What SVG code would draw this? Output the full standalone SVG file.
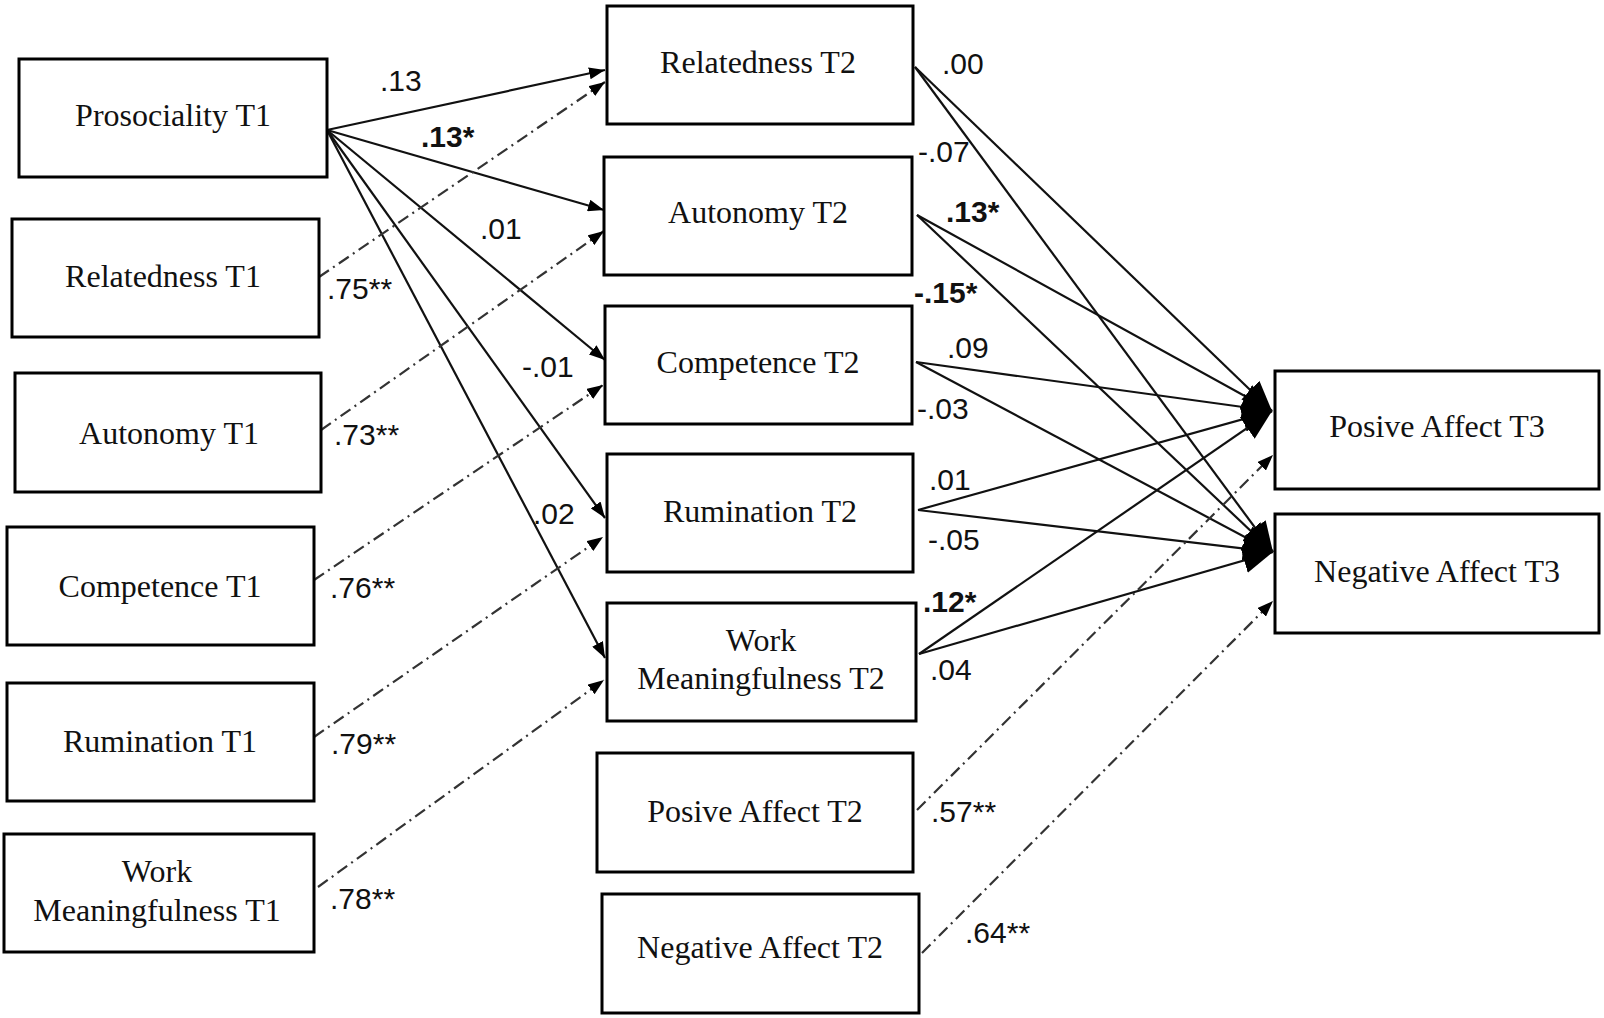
<svg xmlns="http://www.w3.org/2000/svg" width="1604" height="1018" viewBox="0 0 1604 1018">
<style>
.box{fill:#fff;stroke:#000;stroke-width:3}
.nt{font-family:"Liberation Serif","Times New Roman",serif;font-size:32px;fill:#111;text-anchor:middle}
.lb{font-family:"Liberation Sans",Arial,sans-serif;font-size:30px;fill:#111}
.b{font-weight:bold}
.s{fill:none;stroke:#111;stroke-width:2.2}
.d{fill:none;stroke:#333;stroke-width:2.2;stroke-dasharray:12 5 2 5}
</style>
<defs>
<marker id="arr" markerWidth="16" markerHeight="12" refX="16" refY="6" orient="auto" markerUnits="userSpaceOnUse"><path d="M0,0 L16,6 L0,12 z" fill="#000"/></marker>
<marker id="big" markerWidth="30" markerHeight="26" refX="30" refY="13" orient="auto" markerUnits="userSpaceOnUse"><path d="M0,0 L30,13 L0,26 z" fill="#000"/></marker>
</defs>
<g id="connectors">
<line class="s" x1="327" y1="130" x2="605" y2="70" marker-end="url(#arr)"/>
<line class="s" x1="327" y1="130" x2="604" y2="210" marker-end="url(#arr)"/>
<line class="s" x1="327" y1="130" x2="605" y2="360" marker-end="url(#arr)"/>
<line class="s" x1="327" y1="130" x2="605" y2="518" marker-end="url(#arr)"/>
<line class="s" x1="327" y1="130" x2="605" y2="658" marker-end="url(#arr)"/>
<line class="d" x1="319" y1="277" x2="605" y2="82" marker-end="url(#arr)"/>
<line class="d" x1="321" y1="430" x2="604" y2="231" marker-end="url(#arr)"/>
<line class="d" x1="314" y1="580" x2="603" y2="385" marker-end="url(#arr)"/>
<line class="d" x1="314" y1="737" x2="603" y2="537" marker-end="url(#arr)"/>
<line class="d" x1="318" y1="887" x2="604" y2="680" marker-end="url(#arr)"/>
<line class="s" x1="915" y1="67" x2="1272" y2="411" marker-end="url(#big)"/>
<line class="s" x1="915" y1="67" x2="1273" y2="552" marker-end="url(#big)"/>
<line class="s" x1="917" y1="215" x2="1272" y2="411" marker-end="url(#big)"/>
<line class="s" x1="917" y1="215" x2="1273" y2="552" marker-end="url(#big)"/>
<line class="s" x1="916" y1="362" x2="1272" y2="411" marker-end="url(#big)"/>
<line class="s" x1="916" y1="362" x2="1273" y2="552" marker-end="url(#big)"/>
<line class="s" x1="918" y1="510" x2="1272" y2="411" marker-end="url(#big)"/>
<line class="s" x1="918" y1="510" x2="1273" y2="552" marker-end="url(#big)"/>
<line class="s" x1="919" y1="654" x2="1272" y2="411" marker-end="url(#big)"/>
<line class="s" x1="919" y1="654" x2="1273" y2="552" marker-end="url(#big)"/>
<line class="d" x1="917" y1="810" x2="1273" y2="455" marker-end="url(#arr)"/>
<line class="d" x1="922" y1="953" x2="1273" y2="601" marker-end="url(#arr)"/>
</g>
<g id="labels">
<text class="lb" x="380" y="91">.13</text>
<text class="lb b" x="421" y="147">.13*</text>
<text class="lb" x="480" y="239">.01</text>
<text class="lb" x="522" y="377">-.01</text>
<text class="lb" x="533" y="524">.02</text>
<text class="lb" x="327" y="299">.75**</text>
<text class="lb" x="334" y="445">.73**</text>
<text class="lb" x="330" y="598">.76**</text>
<text class="lb" x="331" y="754">.79**</text>
<text class="lb" x="330" y="909">.78**</text>
<text class="lb" x="942" y="74">.00</text>
<text class="lb" x="918" y="162">-.07</text>
<text class="lb b" x="946" y="222">.13*</text>
<text class="lb b" x="914" y="303">-.15*</text>
<text class="lb" x="947" y="358">.09</text>
<text class="lb" x="917" y="419">-.03</text>
<text class="lb" x="929" y="490">.01</text>
<text class="lb" x="928" y="550">-.05</text>
<text class="lb b" x="923" y="612">.12*</text>
<text class="lb" x="930" y="680">.04</text>
<text class="lb" x="931" y="822">.57**</text>
<text class="lb" x="965" y="943">.64**</text>
</g>
<g id="prosociality-t1"><rect class="box" x="19" y="59" width="308" height="118"/><text class="nt" x="173" y="126">Prosociality T1</text></g>
<g id="relatedness-t1"><rect class="box" x="12" y="219" width="307" height="118"/><text class="nt" x="163" y="287">Relatedness T1</text></g>
<g id="autonomy-t1"><rect class="box" x="15" y="373" width="306" height="119"/><text class="nt" x="169" y="444">Autonomy T1</text></g>
<g id="competence-t1"><rect class="box" x="7" y="527" width="307" height="118"/><text class="nt" x="160" y="597">Competence T1</text></g>
<g id="rumination-t1"><rect class="box" x="7" y="683" width="307" height="118"/><text class="nt" x="160" y="752">Rumination T1</text></g>
<g id="work-meaningfulness-t1"><rect class="box" x="4" y="834" width="310" height="118"/><text class="nt" x="157" y="882">Work</text><text class="nt" x="157" y="921">Meaningfulness T1</text></g>
<g id="relatedness-t2"><rect class="box" x="607" y="6" width="306" height="118"/><text class="nt" x="758" y="73">Relatedness T2</text></g>
<g id="autonomy-t2"><rect class="box" x="604" y="157" width="308" height="118"/><text class="nt" x="758" y="223">Autonomy T2</text></g>
<g id="competence-t2"><rect class="box" x="605" y="306" width="307" height="118"/><text class="nt" x="758" y="373">Competence T2</text></g>
<g id="rumination-t2"><rect class="box" x="607" y="454" width="306" height="118"/><text class="nt" x="760" y="522">Rumination T2</text></g>
<g id="work-meaningfulness-t2"><rect class="box" x="607" y="603" width="309" height="118"/><text class="nt" x="761" y="651">Work</text><text class="nt" x="761" y="689">Meaningfulness T2</text></g>
<g id="positive-affect-t2"><rect class="box" x="597" y="753" width="316" height="119"/><text class="nt" x="755" y="822">Posive Affect T2</text></g>
<g id="negative-affect-t2"><rect class="box" x="602" y="894" width="317" height="119"/><text class="nt" x="760" y="958">Negative Affect T2</text></g>
<g id="positive-affect-t3"><rect class="box" x="1275" y="371" width="324" height="118"/><text class="nt" x="1437" y="437">Posive Affect T3</text></g>
<g id="negative-affect-t3"><rect class="box" x="1275" y="514" width="324" height="119"/><text class="nt" x="1437" y="582">Negative Affect T3</text></g>
</svg>
